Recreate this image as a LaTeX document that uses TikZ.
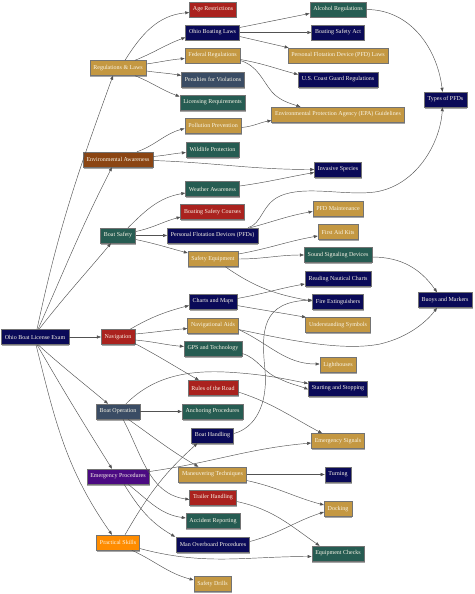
\documentclass[tikz,border=0pt]{standalone}
\usepackage{fontspec}
\setmainfont{Liberation Serif}
\usetikzlibrary{arrows.meta,shadows}
\definecolor{cnavy}{RGB}{10,10,88}
\definecolor{cred}{RGB}{170,34,30}
\definecolor{cgold}{RGB}{196,152,66}
\definecolor{cslate}{RGB}{58,76,100}
\definecolor{cteal}{RGB}{38,92,82}
\definecolor{cbrown}{RGB}{139,69,19}
\definecolor{cpurple}{RGB}{75,10,130}
\definecolor{corange}{RGB}{255,140,0}
\definecolor{ctext}{RGB}{250,246,232}
\begin{document}
\begin{tikzpicture}[x=1pt,y=1pt,
  box/.style={draw=black!55, line width=0.4pt, minimum height=15pt, inner xsep=3.5pt, inner ysep=0pt,
    text=ctext, font=\fontsize{6}{7}\selectfont,
    drop shadow={shadow xshift=0.5pt, shadow yshift=-1.5pt, fill=black!35, opacity=1}},
  e/.style={draw=black!68, line width=0.45pt, -{Triangle[length=4pt,width=3pt]}}]
\useasboundingbox (0,0) rectangle (474,-594);
% level 0 / 1
\node[box,fill=cnavy] (root) at (35,-337) {Ohio Boat License Exam};
\node[box,fill=cgold] (reg) at (118,-68) {Regulations \& Laws};
\node[box,fill=cbrown] (env) at (118,-159.5) {Environmental Awareness};
\node[box,fill=cteal] (bs) at (118,-235.5) {Boat Safety};
\node[box,fill=cred] (nav) at (118,-337) {Navigation};
\node[box,fill=cslate] (bo) at (118,-411.5) {Boat Operation};
\node[box,fill=cpurple] (ep) at (118,-476.5) {Emergency Procedures};
\node[box,fill=corange] (ps) at (118,-542.5) {Practical Skills};
% level 2
\node[box,fill=cred] (age) at (213,-9.5) {Age Restrictions};
\node[box,fill=cnavy] (obl) at (212.5,-32.5) {Ohio Boating Laws};
\node[box,fill=cgold] (fed) at (212.5,-55.5) {Federal Regulations};
\node[box,fill=cslate] (pen) at (213,-79.5) {Penalties for Violations};
\node[box,fill=cteal] (lic) at (212.5,-102.5) {Licensing Requirements};
\node[box,fill=cgold] (pol) at (213,-125.5) {Pollution Prevention};
\node[box,fill=cteal] (wild) at (212.5,-149.5) {Wildlife Protection};
\node[box,fill=cteal] (weather) at (212.5,-189) {Weather Awareness};
\node[box,fill=cred] (bsc) at (212.5,-212) {Boating Safety Courses};
\node[box,fill=cnavy] (pfds) at (212.5,-235.5) {Personal Flotation Devices (PFDs)};
\node[box,fill=cgold] (se) at (213,-259) {Safety Equipment};
\node[box,fill=cnavy] (cm) at (213,-301.5) {Charts and Maps};
\node[box,fill=cgold] (na) at (213,-325.5) {Navigational Aids};
\node[box,fill=cteal] (gps) at (213,-348.5) {GPS and Technology};
\node[box,fill=cred] (rotr) at (213,-388) {Rules of the Road};
\node[box,fill=cteal] (anch) at (212.5,-411.5) {Anchoring Procedures};
\node[box,fill=cnavy] (bh) at (212.5,-435.5) {Boat Handling};
\node[box,fill=cgold] (mt) at (212.5,-474.5) {Maneuvering Techniques};
\node[box,fill=cred] (th) at (213,-497.5) {Trailer Handling};
\node[box,fill=cteal] (ar) at (213,-521) {Accident Reporting};
\node[box,fill=cnavy] (mop) at (213,-544.5) {Man Overboard Procedures};
\node[box,fill=cgold] (sd) at (212.5,-584) {Safety Drills};
% level 3
\node[box,fill=cteal] (alc) at (338,-9.5) {Alcohol Regulations};
\node[box,fill=cnavy] (bsa) at (338,-32.5) {Boating Safety Act};
\node[box,fill=cgold] (pfdl) at (338,-55.5) {Personal Flotation Device (PFD) Laws};
\node[box,fill=cnavy] (uscg) at (338,-79.5) {U.S. Coast Guard Regulations};
\node[box,fill=cgold] (epa) at (338,-114.5) {Environmental Protection Agency (EPA) Guidelines};
\node[box,fill=cnavy] (inv) at (338,-169.5) {Invasive Species};
\node[box,fill=cgold] (pfdm) at (338,-208.5) {PFD Maintenance};
\node[box,fill=cgold] (fak) at (338,-232) {First Aid Kits};
\node[box,fill=cteal] (ssd) at (338,-255) {Sound Signaling Devices};
\node[box,fill=cnavy] (rnc) at (338,-279) {Reading Nautical Charts};
\node[box,fill=cnavy] (fe) at (338,-302) {Fire Extinguishers};
\node[box,fill=cgold] (us) at (338,-325) {Understanding Symbols};
\node[box,fill=cgold] (lh) at (338,-365) {Lighthouses};
\node[box,fill=cnavy] (ss) at (338,-388.5) {Starting and Stopping};
\node[box,fill=cgold] (es) at (338,-441) {Emergency Signals};
\node[box,fill=cnavy] (turn) at (338,-474.5) {Turning};
\node[box,fill=cgold] (dock) at (338,-509) {Docking};
\node[box,fill=cteal] (ec) at (338,-553.5) {Equipment Checks};
% level 4
\node[box,fill=cnavy] (tpfd) at (445.5,-99.5) {Types of PFDs};
\node[box,fill=cnavy] (bm) at (445,-300) {Buoys and Markers};

% root edges
\draw[e] ([xshift=2pt]root.north) to[out=78,in=250] ([xshift=-5pt]reg.south);
\draw[e] ([xshift=3pt]root.north) to[out=66,in=243] ([xshift=-6pt]env.south);
\draw[e] ([xshift=4pt]root.north) to[out=52,in=230] ([xshift=-7pt]bs.south);
\draw[e] (root.east) -- (nav.west);
\draw[e] ([xshift=3pt]root.south) to[out=-42,in=140] ([xshift=-10pt]bo.north);
\draw[e] ([xshift=2pt]root.south) to[out=-60,in=122] ([xshift=-6pt]ep.north);
\draw[e] ([xshift=1pt]root.south) to[out=-76,in=125] ([xshift=-6pt]ps.north);
% regulations
\draw[e] ([xshift=7pt]reg.north) to[out=58,in=185] ([yshift=-3pt]age.west);
\draw[e] ([xshift=17pt]reg.north) to[out=22,in=200] ([yshift=-5pt]obl.west);
\draw[e] ([yshift=4pt]reg.east) to[out=8,in=185] ([yshift=-3pt]fed.west);
\draw[e] ([yshift=-3pt]reg.east) to[out=-8,in=170] ([yshift=4pt]pen.west);
\draw[e] ([xshift=17pt]reg.south) to[out=-22,in=160] ([yshift=6pt]lic.west);
\draw[e] ([yshift=5pt]obl.east) -- ([yshift=-4pt]alc.west);
\draw[e] (obl.east) -- (bsa.west);
\draw[e] ([yshift=-4pt]obl.east) -- ([xshift=1pt]pfdl.north west);
\draw[e] ([yshift=-4pt]fed.east) to[out=-10,in=165] ([yshift=5pt]uscg.west);
\draw[e] ([yshift=-5pt]fed.east) .. controls (258,-66) and (262,-80) .. (272,-92) .. controls (280,-101) and (292,-104) .. ([xshift=29pt]epa.north west);
\draw[e] (alc.east) to[out=0,in=97] ([xshift=-3pt]tpfd.north);
% environmental
\draw[e] ([xshift=19pt]env.north) to[out=20,in=195] ([yshift=-3pt]pol.west);
\draw[e] ([yshift=3pt]env.east) to[out=5,in=185] ([yshift=-3pt]wild.west);
\draw[e] ([yshift=-1pt]env.east) to[out=-2,in=180] (inv.west);
\draw[e] ([yshift=-2pt]pol.east) to[out=5,in=190] ([yshift=-6pt]epa.west);
\draw[e] ([yshift=3pt]weather.east) to[out=8,in=190] ([yshift=-3pt]inv.west);
% boat safety
\draw[e] ([xshift=10pt]bs.north) to[out=45,in=190] ([yshift=-4pt]weather.west);
\draw[e] ([yshift=4pt]bs.east) to[out=12,in=195] ([yshift=-5pt]bsc.west);
\draw[e] (bs.east) -- (pfds.west);
\draw[e] ([yshift=-4pt]bs.east) to[out=-12,in=165] ([yshift=6pt]se.west);
\draw[e] ([xshift=-10pt]pfds.north east) .. controls (262,-224) and (262,-204) .. (280,-196) .. controls (305,-185) and (345,-196) .. (375,-192) .. controls (415,-186) and (440,-145) .. ([xshift=-3pt]tpfd.south);
\draw[e] ([xshift=-8pt]pfds.north east) to[out=15,in=190] ([yshift=-3pt]pfdm.west);
\draw[e] ([yshift=5pt]se.east) to[out=10,in=190] ([yshift=-4pt]fak.west);
\draw[e] (se.east) to[out=0,in=180] (ssd.west);
\draw[e] ([xshift=-13pt]se.south east) to[out=-35,in=170] ([yshift=1pt]fe.west);
\draw[e] ([yshift=-2pt]ssd.east) to[out=0,in=125] ([xshift=-8pt]bm.north);
% navigation
\draw[e] ([xshift=12pt]nav.north) to[out=30,in=195] ([yshift=-4pt]cm.west);
\draw[e] ([yshift=3pt]nav.east) to[out=5,in=185] ([yshift=-3pt]na.west);
\draw[e] ([yshift=-3pt]nav.east) to[out=-5,in=175] ([yshift=2pt]gps.west);
\draw[e] ([xshift=16pt,yshift=-6pt]nav.center) to[out=-28,in=150] ([xshift=-14pt]rotr.north);
\draw[e] ([yshift=3pt]cm.east) to[out=10,in=190] ([yshift=-5pt]rnc.west);
\draw[e] ([yshift=-4pt]cm.east) to[out=-10,in=170] ([xshift=-32pt]us.north);
\draw[e] ([yshift=-4pt]na.east) to[out=-25,in=180] ([yshift=1pt]lh.west);
\draw[e] ([yshift=-4pt]na.east) .. controls (280,-338) and (340,-352) .. (380,-344) .. controls (410,-337) and (428,-320) .. ([xshift=-8pt]bm.south);
\draw[e] ([yshift=-5pt]gps.east) .. controls (258,-358) and (262,-372) .. (280,-379) .. controls (290,-384) and (300,-386) .. ([yshift=-1pt]ss.west);
% boat operation
\draw[e] ([xshift=8pt]bo.north) .. controls (150,-380) and (180,-370) .. (225,-372) .. controls (265,-374) and (290,-380) .. ([yshift=5pt]ss.west);
\draw[e] (bo.east) -- (anch.west);
\draw[e] ([xshift=-12pt]bo.south east) to[out=-35,in=150] ([xshift=20pt]mt.north west);
\draw[e] ([xshift=5pt]bo.south) to[out=-62,in=172] ([yshift=-2pt]th.west);
\draw[e] ([yshift=-4pt]rotr.east) to[out=-18,in=152] ([xshift=11pt]es.north west);
\draw[e] ([yshift=2pt]bh.east) .. controls (255,-428) and (268,-405) .. (265,-370) .. controls (261,-330) and (262,-302) .. ([yshift=2pt]fe.west);
% emergency
\draw[e] ([yshift=5pt]ep.east) to[out=8,in=185] ([yshift=-2pt]es.west);
\draw[e] ([xshift=10pt]ep.south) to[out=-38,in=172] ([yshift=3pt]ar.west);
\draw[e] ([xshift=6pt]ep.south) to[out=-58,in=150] ([xshift=-1pt]mop.north west);
\draw[e] (mt.east) -- (turn.west);
\draw[e] ([yshift=-6pt]mt.east) to[out=-12,in=165] ([yshift=4pt]dock.west);
\draw[e] ([yshift=-4pt]th.east) to[out=-12,in=145] ([xshift=8pt]ec.north west);
\draw[e] ([yshift=3pt]mop.east) to[out=15,in=198] ([yshift=-3pt]dock.west);
% practical skills
\draw[e] ([xshift=7pt]ps.north) to[out=60,in=222] ([xshift=-15pt]bh.south);
\draw[e] ([yshift=-6pt]ps.east) to[out=-15,in=180] ([yshift=-3pt]ec.west);
\draw[e] ([xshift=-8pt]ps.south east) to[out=-25,in=165] ([yshift=4pt]sd.west);
\end{tikzpicture}
\end{document}
